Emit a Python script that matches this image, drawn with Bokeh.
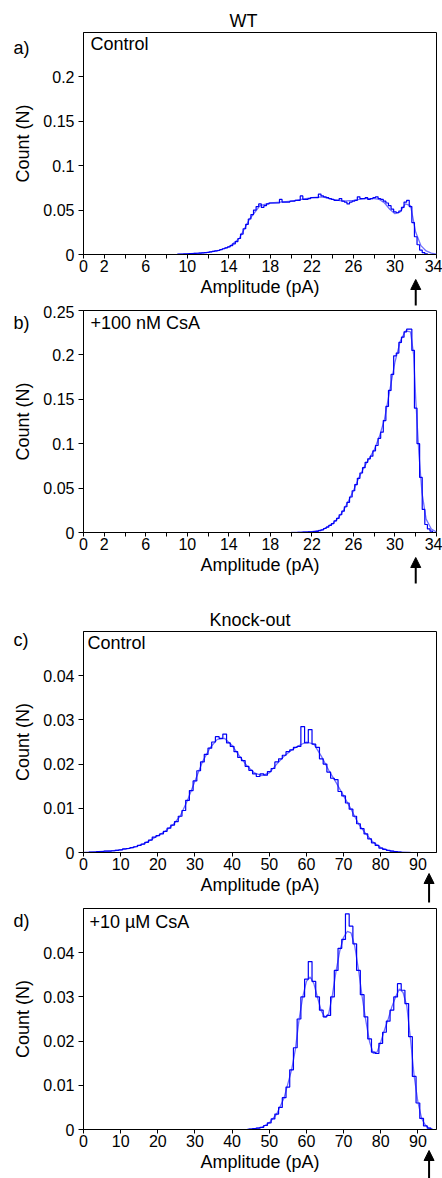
from bokeh.plotting import figure
from bokeh.layouts import column, row
from bokeh.models import FixedTicker, Label, Arrow, NormalHead, Range1d, Title
from bokeh.core.properties import value
from bokeh.embed import file_html
from bokeh.resources import INLINE

FONT = "Liberation Sans"

# ---------------- data ----------------
# Panel a: WT control (histogram, 0.25 pA bins) and fit
wt_ctrl_x = [9.0, 9.25, 9.5, 9.75, 10.0, 10.25, 10.5, 10.75, 11.0, 11.25, 11.5, 11.75, 12.0, 12.25,
             12.5, 12.75, 13.0, 13.25, 13.5, 13.75, 14.0, 14.25, 14.5, 14.75, 15.0, 15.25, 15.5,
             15.75, 16.0, 16.25, 16.5, 16.75, 17.0, 17.25, 17.5, 17.75, 18.0, 18.25, 18.5, 18.75,
             19.0, 19.25, 19.5, 19.75, 20.0, 20.25, 20.5, 20.75, 21.0, 21.25, 21.5, 21.75, 22.0,
             22.25, 22.5, 22.75, 23.0, 23.25, 23.5, 23.75, 24.0, 24.25, 24.5, 24.75, 25.0, 25.25,
             25.5, 25.75, 26.0, 26.25, 26.5, 26.75, 27.0, 27.25, 27.5, 27.75, 28.0, 28.25, 28.5,
             28.75, 29.0, 29.25, 29.5, 29.75, 30.0, 30.25, 30.5, 30.75, 31.0, 31.25, 31.5, 31.75,
             32.0, 32.25, 32.5, 32.75, 33.0, 33.25]
wt_ctrl_y = [0.0003, 0.0004, 0.0005, 0.0006, 0.0008, 0.0009, 0.001, 0.0012, 0.0014, 0.0016, 0.0019,
             0.0022, 0.0025, 0.003, 0.0035, 0.004, 0.0045, 0.0055, 0.0065, 0.0075, 0.0085, 0.010,
             0.012, 0.0145, 0.018, 0.023, 0.029, 0.034, 0.040, 0.045, 0.050, 0.054, 0.057, 0.053,
             0.055, 0.057, 0.058, 0.058, 0.058, 0.058, 0.062, 0.059, 0.059, 0.059, 0.060, 0.060,
             0.061, 0.061, 0.066, 0.062, 0.062, 0.063, 0.064, 0.064, 0.064, 0.068, 0.066, 0.065,
             0.064, 0.063, 0.062, 0.061, 0.061, 0.063, 0.060, 0.059, 0.057, 0.059, 0.060, 0.061,
             0.065, 0.063, 0.063, 0.064, 0.062, 0.063, 0.064, 0.065, 0.063, 0.062, 0.060, 0.058,
             0.055, 0.051, 0.048, 0.047, 0.049, 0.053, 0.059, 0.061, 0.054, 0.036, 0.020, 0.011,
             0.005, 0.002, 0.0008, 0.0]
wt_ctrl_fit_x = [9, 10, 11, 12, 13, 14, 15, 16, 17, 18, 19, 20, 21, 22, 23, 24, 25, 26, 27, 28, 28.5,
                 29, 29.5, 30, 30.5, 31, 31.5, 32, 32.5, 33, 33.5, 34]
wt_ctrl_fit_y = [0.0, 0.0006, 0.0014, 0.0025, 0.0045, 0.0085, 0.018, 0.040, 0.055, 0.058, 0.059,
                 0.060, 0.062, 0.064, 0.065, 0.062, 0.060, 0.061, 0.063, 0.063, 0.062, 0.058, 0.051,
                 0.046, 0.048, 0.057, 0.055, 0.025, 0.010, 0.004, 0.0015, 0.0005]

# Panel b: WT + 100 nM CsA
wt_csa_x = [20.0, 20.25, 20.5, 20.75, 21.0, 21.25, 21.5, 21.75, 22.0, 22.25, 22.5, 22.75, 23.0,
            23.25, 23.5, 23.75, 24.0, 24.25, 24.5, 24.75, 25.0, 25.25, 25.5, 25.75, 26.0, 26.25,
            26.5, 26.75, 27.0, 27.25, 27.5, 27.75, 28.0, 28.25, 28.5, 28.75, 29.0, 29.25, 29.5,
            29.75, 30.0, 30.25, 30.5, 30.75, 31.0, 31.25, 31.5, 31.75, 32.0, 32.25, 32.5, 32.75,
            33.0, 33.25, 33.5, 33.75]
wt_csa_y = [0.0, 0.0, 0.0, 0.0002, 0.0003, 0.0004, 0.0005, 0.0006, 0.0008, 0.001, 0.0012, 0.002,
            0.003, 0.0045, 0.006, 0.008, 0.010, 0.013, 0.016, 0.020, 0.024, 0.029, 0.034, 0.040,
            0.047, 0.054, 0.061, 0.067, 0.073, 0.079, 0.083, 0.086, 0.092, 0.098, 0.106, 0.113,
            0.126, 0.142, 0.160, 0.178, 0.199, 0.202, 0.214, 0.220, 0.226, 0.229, 0.229, 0.205,
            0.140, 0.100, 0.062, 0.026, 0.009, 0.004, 0.0015, 0.0]
wt_csa_fit_x = [20, 21, 22, 23, 24, 24.5, 25, 25.5, 26, 26.5, 27, 27.5, 28, 28.5, 29, 29.5, 30, 30.5,
                31, 31.5, 31.8, 32, 32.3, 32.6, 33, 33.5, 34]
wt_csa_fit_y = [0.0, 0.0003, 0.001, 0.003, 0.010, 0.016, 0.024, 0.035, 0.047, 0.061, 0.073, 0.083,
                0.093, 0.108, 0.128, 0.160, 0.192, 0.215, 0.227, 0.226, 0.200, 0.150, 0.090, 0.045,
                0.015, 0.004, 0.0005]

# Panel c: Knock-out control (1 pA bins)
ko_ctrl_x = list(range(1, 87))
ko_ctrl_y = [0.0, 0.0001, 0.0001, 0.0002, 0.0002, 0.0003, 0.0003, 0.0004, 0.0005, 0.0006, 0.0008,
             0.0009, 0.0011, 0.0013, 0.0016, 0.0019, 0.0023, 0.0028, 0.0035, 0.0038, 0.0042, 0.0048,
             0.0055, 0.0062, 0.0070, 0.0082, 0.0095, 0.0118, 0.0140, 0.0162, 0.0185, 0.0205, 0.0222,
             0.0236, 0.0250, 0.0262, 0.0258, 0.0268, 0.0248, 0.0240, 0.0228, 0.0215, 0.0208, 0.0195,
             0.0186, 0.0178, 0.0172, 0.0178, 0.0175, 0.0183, 0.0190, 0.0205, 0.0212, 0.0220, 0.0228,
             0.0232, 0.0238, 0.0240, 0.0285, 0.0248, 0.0278, 0.0245, 0.0238, 0.0212, 0.0200, 0.0182,
             0.0168, 0.0165, 0.0138, 0.0128, 0.0112, 0.0098, 0.0082, 0.0065, 0.0054, 0.0042, 0.0031,
             0.0022, 0.0016, 0.0010, 0.0007, 0.0005, 0.0003, 0.0002, 0.0001, 0.0]
ko_ctrl_fit_x = [0, 2, 4, 6, 8, 10, 12, 14, 16, 18, 20, 22, 24, 26, 28, 30, 32, 34, 36, 38, 40, 42,
                 44, 46, 48, 50, 52, 54, 56, 58, 60, 62, 64, 66, 68, 70, 72, 74, 76, 78, 80, 82, 84,
                 86, 88]
ko_ctrl_fit_y = [0.0, 0.0001, 0.0002, 0.0003, 0.0004, 0.0006, 0.0009, 0.0013, 0.0019, 0.0028, 0.0038,
                 0.0048, 0.0062, 0.0082, 0.0118, 0.0162, 0.0205, 0.0236, 0.0256, 0.0258, 0.0242,
                 0.0218, 0.0196, 0.0180, 0.0174, 0.0180, 0.0200, 0.0218, 0.0232, 0.0242, 0.0250,
                 0.0245, 0.0218, 0.0186, 0.0158, 0.0128, 0.0098, 0.0065, 0.0042, 0.0023, 0.0011,
                 0.0005, 0.0002, 0.0001, 0.0]

# Panel d: Knock-out + 10 uM CsA
ko_csa_x = list(range(44, 95))
ko_csa_y = [0.0, 0.0001, 0.0002, 0.0003, 0.0005, 0.0009, 0.0015, 0.0024, 0.0035, 0.0050, 0.0072,
            0.0096, 0.0135, 0.0185, 0.0250, 0.0300, 0.0340, 0.0380, 0.0335, 0.0300, 0.0270, 0.0255,
            0.0258, 0.0300, 0.0360, 0.0410, 0.0430, 0.0488, 0.0460, 0.0420, 0.0360, 0.0305, 0.0255,
            0.0205, 0.0175, 0.0172, 0.0195, 0.0220, 0.0245, 0.0270, 0.0300, 0.0330, 0.0315, 0.0285,
            0.0210, 0.0120, 0.0060, 0.0025, 0.0008, 0.0003, 0.0]
ko_csa_fit_x = [44, 46, 48, 50, 52, 54, 56, 57, 58, 59, 60, 61, 62, 63, 64, 65, 66, 67, 68, 69, 70,
                71, 72, 73, 74, 75, 76, 77, 78, 79, 80, 81, 82, 83, 84, 85, 86, 87, 88, 89, 90, 91,
                92, 93, 94]
ko_csa_fit_y = [0.0, 0.0002, 0.0005, 0.0015, 0.0035, 0.0072, 0.0135, 0.0180, 0.0248, 0.0300, 0.0335,
                0.0345, 0.0330, 0.0298, 0.0268, 0.0254, 0.0262, 0.0305, 0.0360, 0.0405, 0.0435,
                0.0448, 0.0445, 0.0415, 0.0362, 0.0300, 0.0245, 0.0198, 0.0172, 0.0175, 0.0198,
                0.0225, 0.0250, 0.0278, 0.0300, 0.0318, 0.0310, 0.0280, 0.0205, 0.0120, 0.0062,
                0.0025, 0.0010, 0.0003, 0.0001]

# ticks and labels
wt_xticks = [0, 2, 6, 10, 14, 18, 22, 26, 30, 34]
wt_xminor = [4, 8, 12, 16, 20, 24, 28, 32]
ko_xticks = [0, 10, 20, 30, 40, 50, 60, 70, 80, 90]
wt_a_yticks = [0, 0.05, 0.1, 0.15, 0.2]
wt_a_ylabels = ["0", "0.05", "0.1", "0.15", "0.2"]
wt_b_yticks = [0, 0.05, 0.1, 0.15, 0.2, 0.25]
wt_b_ylabels = ["0", "0.05", "0.1", "0.15", "0.2", "0.25"]
ko_yticks = [0, 0.01, 0.02, 0.03, 0.04]
ko_ylabels = ["0", "0.01", "0.02", "0.03", "0.04"]
panel_tags = ["a)", "b)", "c)", "d)"]

# marked amplitudes (arrows under the x axes)
wt_arrow_x = 32
ko_arrow_x = 93

HIST_COLOR = "#0000f5"
FIT_COLOR = "#6f6fff"
LABEL_SIZE = "18px"
TICK_SIZE = "16px"

# ---------------- layout geometry (pixels) ----------------
PAGE_W, PAGE_H = 442, 1178
LEFT, FRAME_W, RIGHT = 83, 353, 6


def panel(frame_h, b_top, b_bottom, x_end, y_end, xticks, xminor, yticks, ylabels,
          hx, hy, fx, fy):
    p = figure(frame_width=FRAME_W, frame_height=frame_h,
               min_border_left=LEFT, min_border_right=RIGHT,
               min_border_top=b_top, min_border_bottom=b_bottom,
               x_range=Range1d(0, x_end), y_range=Range1d(0, y_end),
               output_backend="svg", toolbar_location=None, tools="")
    p.xgrid.visible = False
    p.ygrid.visible = False
    p.outline_line_color = "black"
    p.outline_line_width = 1

    xa = p.xaxis[0]
    xa.ticker = FixedTicker(ticks=xticks, minor_ticks=xminor)
    xa.axis_label = "Amplitude (pA)"
    xa.major_tick_in = 0
    xa.major_tick_out = 4
    xa.minor_tick_in = 0
    xa.minor_tick_out = 4
    xa.major_label_standoff = 1
    xa.axis_label_standoff = 2

    ya = p.yaxis[0]
    ya.ticker = FixedTicker(ticks=yticks, minor_ticks=[])
    ya.major_label_overrides = {t: l for t, l in zip(yticks, ylabels)}
    ya.axis_label = "Count (N)"
    ya.major_tick_in = 0
    ya.major_tick_out = 5
    ya.minor_tick_out = 0
    ya.major_label_standoff = 4
    ya.axis_label_standoff = 7

    for ax in (xa, ya):
        ax.axis_line_color = "black"
        ax.major_tick_line_color = "black"
        ax.minor_tick_line_color = "black"
        ax.major_label_text_font = FONT
        ax.major_label_text_font_size = TICK_SIZE
        ax.major_label_text_color = "black"
        ax.axis_label_text_font = FONT
        ax.axis_label_text_font_size = LABEL_SIZE
        ax.axis_label_text_font_style = "normal"
        ax.axis_label_text_color = "black"

    p.line(fx, fy, line_color=FIT_COLOR, line_width=1.3)
    p.step(hx, hy, mode="center", line_color=HIST_COLOR, line_width=1.2)
    return p


def add_title(p, text, offset):
    p.title = Title(text=text, align="left", offset=offset, standoff=4, text_font=FONT,
                    text_font_size=LABEL_SIZE, text_font_style="normal", text_color="black")


def add_text(p, x, y, text):
    p.add_layout(Label(x=x, y=y, text=text, text_font=FONT, text_font_size=LABEL_SIZE,
                       text_align="left", text_baseline="middle", text_color="black"))


pa = panel(222, 32, 51, 34, 0.25, wt_xticks, wt_xminor, wt_a_yticks, wt_a_ylabels,
           wt_ctrl_x, wt_ctrl_y, wt_ctrl_fit_x, wt_ctrl_fit_y)
add_title(pa, "WT", 146)
add_text(pa, 0.67, 0.2376, "Control")

pb = panel(222, 5, 53, 34, 0.25, wt_xticks, wt_xminor, wt_b_yticks, wt_b_ylabels,
           wt_csa_x, wt_csa_y, wt_csa_fit_x, wt_csa_fit_y)
add_text(pb, 0.67, 0.2354, "+100 nM CsA")

pc = panel(221, 46, 50, 95, 0.05, ko_xticks, [], ko_yticks, ko_ylabels,
           ko_ctrl_x, ko_ctrl_y, ko_ctrl_fit_x, ko_ctrl_fit_y)
add_title(pc, "Knock-out", 126)
add_text(pc, 1.08, 0.0475, "Control")

pd = panel(221, 6, 49, 95, 0.05, ko_xticks, [], ko_yticks, ko_ylabels,
           ko_csa_x, ko_csa_y, ko_csa_fit_x, ko_csa_fit_y)
add_text(pd, 1.6, 0.047, "+10 \u00b5M CsA")

# ---------------- transparent page overlay: panel letters and arrows ----------------
ov = figure(width=PAGE_W, height=PAGE_H, x_range=Range1d(0, PAGE_W), y_range=Range1d(PAGE_H, 0),
            min_border=0, min_border_left=0, min_border_right=0,
            min_border_top=0, min_border_bottom=0,
            x_axis_type=None, y_axis_type=None,
            output_backend="svg", toolbar_location=None, tools="")
if "frame_align" in ov.properties():
    ov.frame_align = False
ov.grid.visible = False
ov.outline_line_color = None
ov.background_fill_color = None
ov.border_fill_color = None

tag_y = [47, 322, 639, 920]
ov.text(x=[13] * 4, y=tag_y, text=panel_tags, text_font=value(FONT), text_font_size=LABEL_SIZE,
        text_align="left", text_baseline="middle", text_color="black")


def page_x(v, x_end):
    return LEFT + v * FRAME_W / x_end


arrows = [(page_x(wt_arrow_x, 34), 305, 279), (page_x(wt_arrow_x, 34), 583, 557),
          (page_x(ko_arrow_x, 95), 902, 873), (page_x(ko_arrow_x, 95), 1178, 1150)]
for ax_, tail, tip in arrows:
    ov.add_layout(Arrow(x_start=ax_, y_start=tail, x_end=ax_, y_end=tip, line_color="black",
                        line_width=2,
                        end=NormalHead(size=10, fill_color="black", line_color="black",
                                       line_width=1)))

panels = column(pa, pb, pc, pd, spacing=0)
overlay = row(ov, margin=(-PAGE_H, 0, 0, 0))
layout = column(panels, overlay, spacing=0)

open("out.html", "w").write(file_html(layout, INLINE))
